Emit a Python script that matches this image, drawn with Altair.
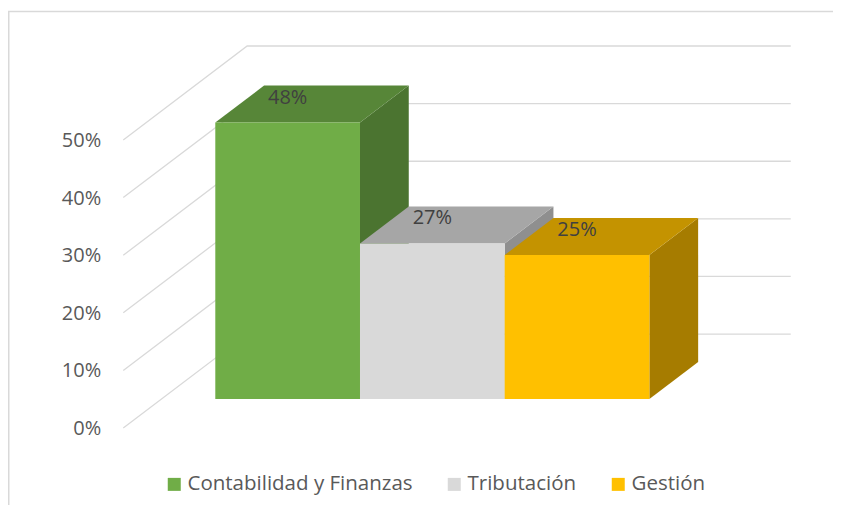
import altair as alt
import pandas as pd

# ---------------- data ----------------
CATEGORIES = ["Contabilidad y Finanzas", "Tributación", "Gestión"]
VALUES = [48, 27, 25]
LABELS = ["48%", "27%", "25%"]
TICKS = [0, 10, 20, 30, 40, 50]
TICK_LABELS = ["0%", "10%", "20%", "30%", "40%", "50%"]

FRONT_COLORS = ["#70AD47", "#D9D9D9", "#FFC000"]
TOP_COLORS = ["#578638", "#A6A6A6", "#C49300"]
SIDE_COLORS = ["#4B7430", "#8F8F8F", "#A67C00"]

# ---------------- 3-D geometry (data units) ----------------
DEPTH_X = 0.337     # category units per unit of bar depth
DEPTH_Y = 6.42      # percentage points per unit of bar depth
FLOOR_FRONT = -0.784
WALL_BACK = 1.757
WALL_LEFT = -0.636
GRID_END = 3.977

W, H = 825, 497
X_DOMAIN = [-1.4326, 4.2689]
Y_DOMAIN = [-18.40, 67.88]
FONT = "Open Sans"

xs = alt.Scale(domain=X_DOMAIN, nice=False, zero=False)
ys = alt.Scale(domain=Y_DOMAIN, nice=False, zero=False)

# front faces
front = pd.DataFrame({
    "cat": CATEGORIES,
    "x": [float(i) for i in range(len(CATEGORIES))],
    "x2": [float(i + 1) for i in range(len(CATEGORIES))],
    "y": [0.0] * len(CATEGORIES),
    "y2": [float(v) for v in VALUES],
})

# wall gridlines
grid_rows = []
for t in TICKS:
    yb = t + WALL_BACK * DEPTH_Y
    grid_rows.append({"t": t, "k": 0, "x": WALL_LEFT, "y": t + FLOOR_FRONT * DEPTH_Y})
    grid_rows.append({"t": t, "k": 1, "x": WALL_LEFT + (WALL_BACK - FLOOR_FRONT) * DEPTH_X, "y": yb})
    grid_rows.append({"t": t, "k": 2, "x": GRID_END, "y": yb})
grid = pd.DataFrame(grid_rows)

ticks = pd.DataFrame({
    "x": [WALL_LEFT] * len(TICKS),
    "y": [t + FLOOR_FRONT * DEPTH_Y for t in TICKS],
    "label": TICK_LABELS,
})

labels = pd.DataFrame({
    "x": [i + 0.5 for i in range(len(CATEGORIES))],
    "y": VALUES,
    "label": LABELS,
})

grid_layer = alt.Chart(grid).mark_line(color="#D9D9D9", strokeWidth=1.3).encode(
    x=alt.X("x:Q", scale=xs, axis=None),
    y=alt.Y("y:Q", scale=ys, axis=None),
    detail="t:N",
    order="k:Q",
)

tick_layer = alt.Chart(ticks).mark_text(
    align="right", baseline="middle", dx=-22, dy=1, fontSize=20, font=FONT, color="#595959"
).encode(
    x=alt.X("x:Q", scale=xs, axis=None),
    y=alt.Y("y:Q", scale=ys, axis=None),
    text="label:N",
)

# side and top faces: one polygon layer per bar
side_layers, top_layers = [], []
for i, (c, v) in enumerate(zip(CATEGORIES, VALUES)):
    side_df = pd.DataFrame({
        "k": [0, 1],
        "x": [i + 1.0, i + 1.0 + DEPTH_X],
        "y": [0.0, DEPTH_Y],
        "y2": [float(v), v + DEPTH_Y],
    })
    top_df = pd.DataFrame({
        "k": [0, 1],
        "y": [float(v), v + DEPTH_Y],
        "x": [float(i), i + DEPTH_X],
        "x2": [i + 1.0, i + 1.0 + DEPTH_X],
    })
    side_layers.append(
        alt.Chart(side_df).mark_area(orient="vertical", color=SIDE_COLORS[i], opacity=1).encode(
            x=alt.X("x:Q", scale=xs, axis=None),
            y=alt.Y("y:Q", scale=ys, axis=None),
            y2="y2:Q",
        )
    )
    top_layers.append(
        alt.Chart(top_df).mark_area(orient="horizontal", color=TOP_COLORS[i], opacity=1).encode(
            y=alt.Y("y:Q", scale=ys, axis=None),
            x=alt.X("x:Q", scale=xs, axis=None),
            x2="x2:Q",
        )
    )

front_layer = alt.Chart(front).mark_rect().encode(
    x=alt.X("x:Q", scale=xs, axis=None),
    x2="x2:Q",
    y=alt.Y("y:Q", scale=ys, axis=None),
    y2="y2:Q",
    color=alt.Color(
        "cat:N",
        sort=CATEGORIES,
        scale=alt.Scale(domain=CATEGORIES, range=FRONT_COLORS),
        legend=alt.Legend(
            title=None, orient="none", legendX=156, legendY=466,
            direction="horizontal", symbolType="square", symbolSize=169,
            symbolStrokeWidth=0, labelFontSize=20.5, labelColor="#595959",
            labelFont=FONT, labelOffset=3, columnPadding=31, labelLimit=0,
        ),
    ),
)

label_layer = alt.Chart(labels).mark_text(
    baseline="middle", align="center", dy=-25, fontSize=20, font=FONT, color="#404040"
).encode(
    x=alt.X("x:Q", scale=xs, axis=None),
    y=alt.Y("y:Q", scale=ys, axis=None),
    text="label:N",
)

border_left = alt.Chart(pd.DataFrame({"a": [0]})).mark_rule(color="#D9D9D9", strokeWidth=1.5).encode(
    x=alt.value(0.75), y=alt.value(3.5), y2=alt.value(H)
)
border_top = alt.Chart(pd.DataFrame({"a": [0]})).mark_rule(color="#D9D9D9", strokeWidth=1.5).encode(
    x=alt.value(0), x2=alt.value(W), y=alt.value(3.5)
)

chart = alt.layer(
    border_left, border_top, grid_layer, tick_layer,
    *side_layers, *top_layers, front_layer, label_layer,
).properties(
    width=W, height=H, padding=0,
    autosize=alt.AutoSizeParams(type="none"),
).configure_view(stroke=None)

chart.save("out.html", embed_options={"renderer": "svg", "actions": False})
